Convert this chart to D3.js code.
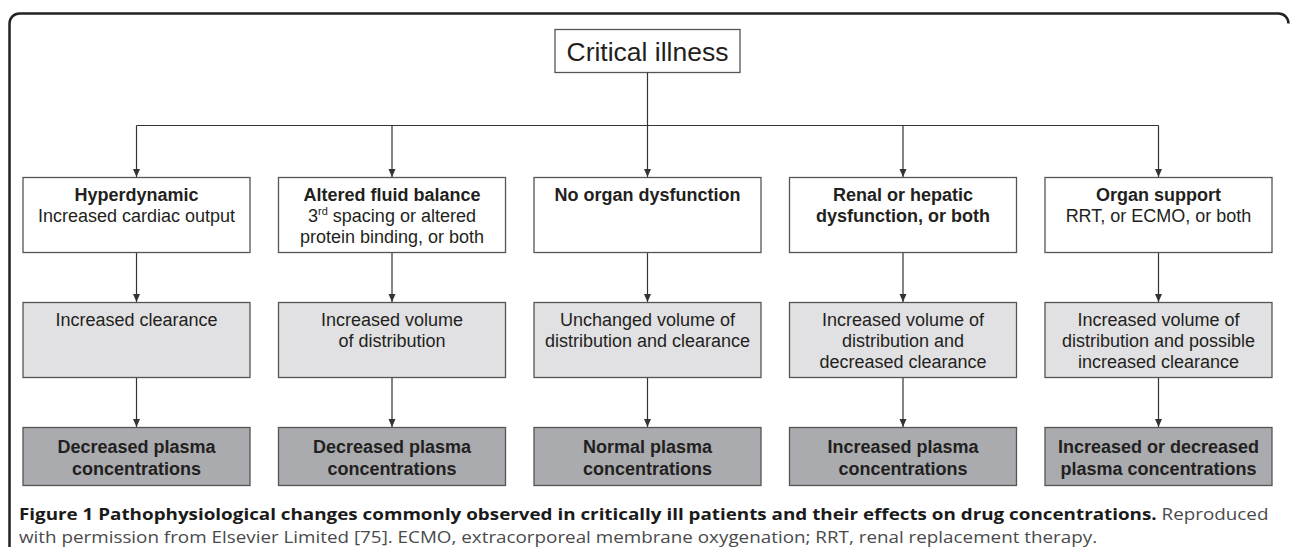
<!DOCTYPE html>
<html>
<head>
<meta charset="utf-8">
<script src="https://cdn.jsdelivr.net/npm/d3@7"></script>
<style>
  body { margin: 0; background: #fff; }
  svg { display: block; }
</style>
</head>
<body>
<svg width="1290" height="547"></svg>
<script>
var rootLabel = "Critical illness";

var columns = ["hyper", "fluid", "none", "organ", "support"];
var rows = ["cause", "effect", "outcome"];

// bold heading lines of the first row
var causeTitles = [
  ["Hyperdynamic"],
  ["Altered fluid balance"],
  ["No organ dysfunction"],
  ["Renal or hepatic", "dysfunction, or both"],
  ["Organ support"]
];
// plain lines under the headings
var causeNotes = [
  ["Increased cardiac output"],
  ["3rd spacing or altered", "protein binding, or both"],
  [],
  [],
  ["RRT, or ECMO, or both"]
];
var effects = [
  ["Increased clearance"],
  ["Increased volume", "of distribution"],
  ["Unchanged volume of", "distribution and clearance"],
  ["Increased volume of", "distribution and", "decreased clearance"],
  ["Increased volume of", "distribution and possible", "increased clearance"]
];
var outcomes = [
  ["Decreased plasma", "concentrations"],
  ["Decreased plasma", "concentrations"],
  ["Normal plasma", "concentrations"],
  ["Increased plasma", "concentrations"],
  ["Increased or decreased", "plasma concentrations"]
];

var captionBold = "Figure 1 Pathophysiological changes commonly observed in critically ill patients and their effects on drug concentrations.";
var captionRest = [" Reproduced",
  "with permission from Elsevier Limited [75]. ECMO, extracorporeal membrane oxygenation; RRT, renal replacement therapy."];

var svg = d3.select("svg");
var font = "'Liberation Sans', Arial, Helvetica, sans-serif";
var fs = 18, lh = 21;
var boxH = {cause: 75, effect: 75, outcome: 58};

var x = d3.scaleBand().domain(columns).range([23, 1272]).paddingInner(0.1115);
var y = d3.scalePoint().domain(rows).range([177.5, 427.5]);
var cx = function(c) { return x(c) + x.bandwidth() / 2; };

var fills = {cause: "#ffffff", effect: "#e1e1e3", outcome: "#a9abae"};

svg.append("defs").append("marker")
    .attr("id", "arr")
    .attr("markerUnits", "userSpaceOnUse")
    .attr("viewBox", "0 -4 8 8")
    .attr("refX", 8).attr("refY", 0)
    .attr("markerWidth", 8).attr("markerHeight", 8)
    .attr("orient", "auto")
  .append("path")
    .attr("d", "M0,-3.5L8,0L0,3.5Z")
    .attr("fill", "#333");

// outer frame
svg.append("path")
    .attr("d", "M9.5,547V23.5A10,10 0 0 1 19.5,13.5H1278.5A10,10 0 0 1 1288.5,23.5")
    .attr("fill", "none")
    .attr("stroke", "#222")
    .attr("stroke-width", 2.5);

// root box
var midCol = columns[2];
var rootW = 185, rootTop = 29.5, rootH = 43, busY = 125.5;
svg.append("rect")
    .attr("x", cx(midCol) - rootW / 2).attr("y", rootTop)
    .attr("width", rootW).attr("height", rootH)
    .attr("fill", "#fff").attr("stroke", "#555").attr("stroke-width", 1.3);
svg.append("text")
    .attr("x", cx(midCol)).attr("y", rootTop + rootH / 2 + 9.5)
    .attr("text-anchor", "middle")
    .style("font-family", font).style("font-size", "26.5px").style("fill", "#231f20")
    .text(rootLabel);

// connectors
var lines = svg.append("g").attr("stroke", "#333").attr("stroke-width", 1.2).attr("fill", "none");
lines.append("line")
    .attr("x1", cx(columns[0])).attr("x2", cx(columns[columns.length - 1]))
    .attr("y1", busY).attr("y2", busY);
lines.append("line")
    .attr("x1", cx(midCol)).attr("x2", cx(midCol))
    .attr("y1", rootTop + rootH).attr("y2", busY);
lines.selectAll(".drop")
    .data(columns)
  .enter().append("line")
    .attr("class", "drop")
    .attr("x1", cx).attr("x2", cx)
    .attr("y1", busY).attr("y2", y("cause") - 0.5)
    .attr("marker-end", "url(#arr)");
rows.slice(1).forEach(function(r, i) {
  lines.selectAll(".step" + i)
      .data(columns)
    .enter().append("line")
      .attr("x1", cx).attr("x2", cx)
      .attr("y1", y(rows[i]) + boxH[rows[i]]).attr("y2", y(r) - 0.5)
      .attr("marker-end", "url(#arr)");
});

// boxes
var boxLines = {
  cause: columns.map(function(c, i) {
    return causeTitles[i].map(function(t) { return {t: t, b: true}; })
      .concat(causeNotes[i].map(function(t) { return {t: t, b: false}; }));
  }),
  effect: effects.map(function(l) { return l.map(function(t) { return {t: t, b: false}; }); }),
  outcome: outcomes.map(function(l) { return l.map(function(t) { return {t: t, b: true}; }); })
};

rows.forEach(function(r) {
  var g = svg.append("g");
  g.selectAll("rect")
      .data(columns)
    .enter().append("rect")
      .attr("x", function(c) { return x(c); })
      .attr("y", y(r))
      .attr("width", x.bandwidth())
      .attr("height", boxH[r])
      .attr("fill", fills[r])
      .attr("stroke", "#555")
      .attr("stroke-width", 1.3);

  columns.forEach(function(c, i) {
    var ls = boxLines[r][i];
    var first = r === "outcome" ? y(r) + boxH[r] / 2 + 1 - (ls.length - 1) * 22 / 2 : y(r) + 17.5;
    var step = r === "outcome" ? 22 : lh;
    ls.forEach(function(l, k) {
      var t = g.append("text")
          .attr("x", cx(c))
          .attr("y", first + k * step + fs * 0.35)
          .attr("text-anchor", "middle")
          .style("font-family", font)
          .style("font-size", fs + "px")
          .style("font-weight", l.b ? "bold" : "normal")
          .style("fill", "#231f20");
      var m = l.t.match(/^(\d)(rd|st|nd|th)(.*)$/);
      if (m) {
        t.append("tspan").text(m[1]);
        t.append("tspan").attr("dy", -7).style("font-size", "11px").text(m[2]);
        t.append("tspan").attr("dy", 7).text(m[3]);
      } else {
        t.text(l.t);
      }
    });
  });
});

// caption: widened horizontally so the first line spans the reference width
var capFont = "'Open Sans', 'Noto Sans', sans-serif";
var capSize = 16.5;
var capG = svg.append("g");
var cap1 = capG.append("text")
    .attr("x", 0).attr("y", 520)
    .style("font-family", capFont).style("font-size", capSize + "px");
cap1.append("tspan").style("font-weight", "bold").style("fill", "#1a1a1a").text(captionBold);
cap1.append("tspan").style("fill", "#4a4a4c").text(captionRest[0]);
capG.append("text")
    .attr("x", 0).attr("y", 543)
    .style("font-family", capFont).style("font-size", capSize + "px")
    .style("fill", "#4a4a4c")
    .text(captionRest[1]);
var sx = 1251 / cap1.node().getComputedTextLength();
capG.attr("transform", "translate(19,0) scale(" + sx + ",1)");
</script>
</body>
</html>
